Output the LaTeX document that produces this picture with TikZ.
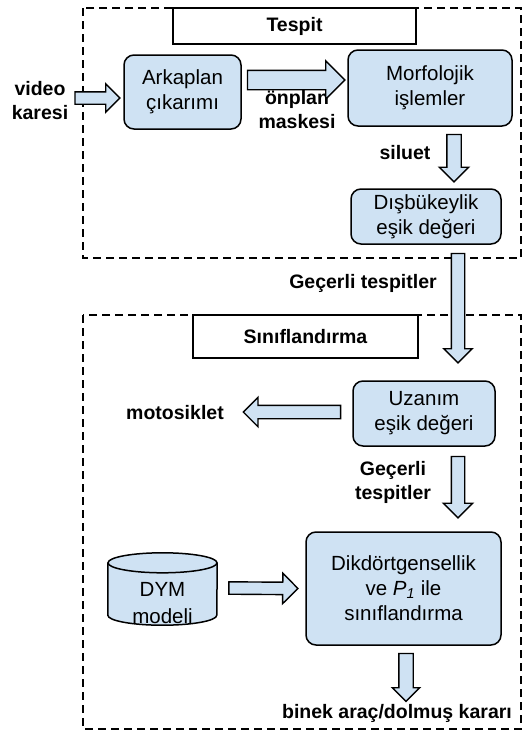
\documentclass[tikz,border=0pt]{standalone}
\usepackage{fontspec}
\setmainfont{Liberation Sans}
\usetikzlibrary{shapes.arrows,calc}
\definecolor{boxblue}{HTML}{CFE2F3}
\newcommand{\barrow}[4]{\path let \p1=(#1), \p2=(#2), \n1={veclen(\x2-\x1,\y2-\y1)}, \n2={atan2(\y2-\y1,\x2-\x1)} in
  node[blockarr, minimum height=\n1, inner ysep={#3/2}, single arrow head extend={(#4-#3)/2}, rotate=\n2, anchor=tail] at (\p1) {};}
\begin{document}
\begin{tikzpicture}[x=1pt, y=-1pt,
  box/.style={draw, fill=boxblue, rounded corners=10pt, line width=1.5pt, align=center, inner sep=0pt, font=\fontsize{20.5}{25}\selectfont},
  titlebox/.style={draw, fill=white, line width=1.5pt, inner sep=0pt, font=\fontsize{19.5}{24}\selectfont\bfseries},
  lbl/.style={align=center, inner sep=0pt, font=\fontsize{19.5}{24}\selectfont\bfseries},
  frame/.style={line width=2pt, dash pattern=on 8pt off 5pt},
  cyl/.style={draw, fill=boxblue, line width=1.5pt},
  blockarr/.style={single arrow, draw, fill=boxblue, line width=1.4pt, inner xsep=0pt, single arrow tip angle=90, single arrow head indent=0pt}]
\useasboundingbox (0,0) rectangle (526,731);
\draw[frame] (83,8) rectangle (521,258);
\draw[frame] (83,315) rectangle (521,729);
\node[titlebox, minimum width=243pt, minimum height=36pt] (tespit) at (294.5,26) {Tespit};
\node[titlebox, minimum width=225pt, minimum height=43pt] (sinif) at (305.5,336.5) {Sınıflandırma};
\node[box, minimum width=117pt, minimum height=74pt] (ark) at (182.5,92) {Arkaplan\\çıkarımı};
\node[box, minimum width=164pt, minimum height=76pt] (morf) at (430,88) {Morfolojik\\işlemler};
\node[box, minimum width=150pt, minimum height=55pt] (disb) at (426,216.5) {Dışbükeylik\\eşik değeri};
\node[box, minimum width=142pt, minimum height=65pt] (uzan) at (424,413.5) {Uzanım\\eşik değeri};
\node[box, minimum width=195pt, minimum height=113pt] (dik) at (403.5,588.5) {Dikdörtgensellik\\ve \textit{P}\textsubscript{\textit{1}} ile\\sınıflandırma};
\node[minimum width=109pt, minimum height=72pt, inner sep=0pt] (dym) at (162.5,589) {};
\filldraw[cyl] ($(dym.north west)+(0,10)$) -- ($(dym.south west)+(0,-10)$) arc[start angle=180, end angle=360, x radius=54.5pt, y radius=10pt] -- ($(dym.north east)+(0,10)$);
\draw[cyl] ($(dym.north)+(0,10)$) ellipse[x radius=54.5pt, y radius=10pt];
\node[align=center, inner sep=0pt, font=\fontsize{20.5}{27}\selectfont] (dymtext) at ($(dym)+(0,14)$) {DYM\\modeli};
\node[lbl] (video) at (40,101) {video\\karesi};
\node[lbl] (onplan) at (297,109.5) {önplan\\maskesi};
\node[lbl] (siluet) at (405,153) {siluet};
\node[lbl] (gecerli) at (363,283) {Geçerli tespitler};
\node[lbl] (moto) at (175,413) {motosiklet};
\node[lbl] (gecerlib) at (393,482) {Geçerli\\tespitler};
\node[lbl] (binek) at (397,713) {binek araç/dolmuş kararı};
\coordinate (motoend) at ($(moto.east)+(20,-1)$);
\barrow{$(ark.west)+(-49,6)$}{$(ark.west)+(-4,6)$}{11pt}{27pt}
\barrow{$(ark.east)+(5,-12)$}{$(morf.west)+(-3,-8)$}{18pt}{37pt}
\barrow{$(morf.south)+(24,7)$}{$(disb.north)+(28,-7)$}{13pt}{28pt}
\barrow{$(disb.south)+(32,8)$}{$(uzan.north)+(34,-18)$}{12pt}{27pt}
\barrow{$(uzan.west)+(-11,-1.5)$}{motoend}{12pt}{28pt}
\barrow{$(uzan.south)+(34,9)$}{$(dik.north)+(54.5,-14)$}{12pt}{28pt}
\barrow{$(dym.east)+(11,-1)$}{$(dik.west)+(-8,0)$}{11pt}{29pt}
\barrow{$(dik.south)+(2.5,7)$}{$(binek.north)+(9,-3)$}{13pt}{26pt}
\end{tikzpicture}
\end{document}
